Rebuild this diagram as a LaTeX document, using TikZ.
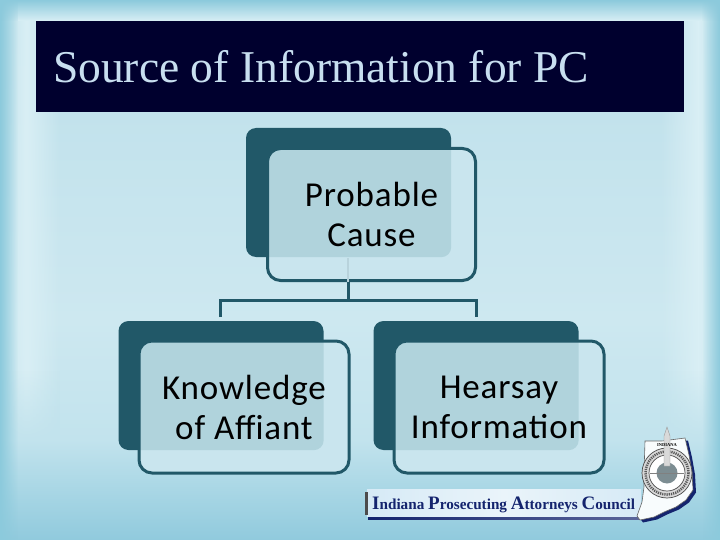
\documentclass[tikz,border=0pt]{standalone}
\usepackage{fontspec}
\setmainfont{Carlito}[LetterSpace=2.5]
\newfontfamily\titlefont{Liberation Serif}
\usetikzlibrary{fadings}
\definecolor{teal}{HTML}{215868}
\definecolor{frontfill}{HTML}{C9E5EE}
\definecolor{overlap}{HTML}{B0D3DC}
\definecolor{barblue}{HTML}{00002E}
\definecolor{titletext}{HTML}{C8DFF0}
\definecolor{edgeblue}{HTML}{8CCADC}
\definecolor{glow}{HTML}{D9EFF5}
\definecolor{bgA}{HTML}{BCDFEA}
\definecolor{bgB}{HTML}{CDE8F0}
\definecolor{bgC}{HTML}{C2E3ED}
\definecolor{bgD}{HTML}{90CADD}
\definecolor{navy}{HTML}{14246E}
\definecolor{faint}{HTML}{B8D3DC}
\definecolor{bannerend}{HTML}{D6EAF6}
\definecolor{bannermid}{HTML}{EAF4FA}
\tikzset{
 backbox/.style={fill=teal,rounded corners=10pt,minimum width=205pt,minimum height=129pt,inner sep=0pt},
 frontbox/.style={draw=teal,line width=3pt,fill=frontfill,rounded corners=13pt,minimum width=208pt,minimum height=132pt,inner sep=0pt,align=center,text=black,font=\fontsize{35}{40}\selectfont},
 link/.style={draw=teal,line width=3pt}
}
\begin{document}
\begin{tikzpicture}[x=1pt,y=-1pt]
\useasboundingbox (0,0) rectangle (720,540);
% background
\shade[shading=axis,shading angle=180,top color=bgA,bottom color=bgB] (0,0) rectangle (720,320);
\shade[shading=axis,shading angle=180,top color=bgB,bottom color=bgC] (0,320) rectangle (720,440);
\fill[glow,path fading=west] (0,0) rectangle (26,440);
\fill[glow,path fading=east] (26,0) rectangle (60,440);
\fill[glow,path fading=east] (698,0) rectangle (720,440);
\fill[glow,path fading=west] (660,0) rectangle (698,440);
\fill[bgC,path fading=north] (0,370) rectangle (60,440);
\fill[bgC,path fading=north] (660,370) rectangle (720,440);
\shade[shading=axis,shading angle=180,top color=bgC,bottom color=bgD] (0,440) rectangle (720,540);
\fill[edgeblue,path fading=east] (0,0) rectangle (18,540);
\fill[edgeblue,path fading=west] (702,0) rectangle (720,540);
\fill[glow] (18,0) rectangle (702,21);
\fill[edgeblue,path fading=south] (0,0) rectangle (720,21);
% title
\node[fill=barblue,minimum width=648pt,minimum height=91pt,inner sep=0pt] (bar) at (360,66.5) {};
\node[anchor=base west,inner sep=0pt,text=titletext,font=\titlefont\fontsize{45.5}{50}\selectfont] (title) at (53,83) {Source of Information for PC};
% boxes
\node[backbox] (pcback) at (348.5,192.5) {};
\node[backbox] (kaback) at (221,385.5) {};
\node[backbox] (hiback) at (476,385.5) {};
\coordinate (junction) at (348,300.5);
\coordinate (kadrop) at (220,317);
\coordinate (hidrop) at (476,317);
\coordinate (faintstart) at (348,258);
\draw[link] (kadrop) |- (junction) -| (hidrop);
\node[frontbox,path picture={\fill[overlap,rounded corners=10pt] (pcback.south west) rectangle (pcback.north east);}] (pc) at (371.5,214.5) {Probable\\Cause};
\node[frontbox,minimum width=210pt,path picture={\fill[overlap,rounded corners=10pt] (kaback.south west) rectangle (kaback.north east);}] (ka) at (244,407) {Knowledge\\of Aff\kern0pt iant};
\node[frontbox,minimum width=210pt,path picture={\fill[overlap,rounded corners=10pt] (hiback.south west) rectangle (hiback.north east);}] (hi) at (499,407) {Hearsay\\Information};
\draw[link] (pc.south -| junction) -- (junction);
\draw[faint,line width=2.5pt] (faintstart) -- (pc.south -| faintstart);
% logo banner
\shade[shading=axis,left color=navy,right color=navy!70!white] (368,514) rectangle (640,519.5);
\shade[shading=axis,left color=bannerend,right color=bannerend,middle color=bannermid] (367,489) rectangle (641,516);
\fill[black!70] (365,492) rectangle (367.5,515);
\node[anchor=base west,inner sep=0pt,text=navy,font=\titlefont\bfseries] (logotext) at (372,509.5) {\fontsize{19}{19}\selectfont I\fontsize{15.2}{15}\selectfont ndiana \fontsize{19}{19}\selectfont P\fontsize{15.2}{15}\selectfont rosecuting \fontsize{19}{19}\selectfont A\fontsize{15.2}{15}\selectfont ttorneys \fontsize{19}{19}\selectfont C\fontsize{15.2}{15}\selectfont ouncil};
% logo state outline
\def\stateoutline{(645,441) -- (662,441) -- (685,438) -- (689,455) -- (692,472) -- (693,490) -- (686,500) -- (676,507) -- (664,512) -- (654,517) -- (640,520) -- (637,516) -- (642,502) -- (644,487) -- (644,473) -- cycle}
\fill[navy,shift={(3,2.5)}] \stateoutline;
\fill[white!90!bgA,draw=black!60,line width=.6pt] \stateoutline;
\fill[white!85!black,draw=black!70,line width=.7pt] (667,473) circle (25);
\draw[black!65,line width=2.5pt,dash pattern=on 1.2pt off 1pt] (667,473) circle (21.5);
\fill[white,draw=black!70,line width=.7pt] (667,473) circle (18);
\fill[black!45!teal!55!white] (667,473) circle (10.5);
\draw[black!50,line width=.8pt] (650,473) -- (684,473);
\fill[white!85!black,draw=black!40,line width=.4pt] (667,427) -- (670,436) -- (670,466) -- (664,466) -- (664,436) -- cycle;
\node[inner sep=0pt,text=black,font=\titlefont\bfseries\fontsize{4.5}{5}\selectfont] (statelabel) at (667,445) {INDIANA};
\end{tikzpicture}
\end{document}
